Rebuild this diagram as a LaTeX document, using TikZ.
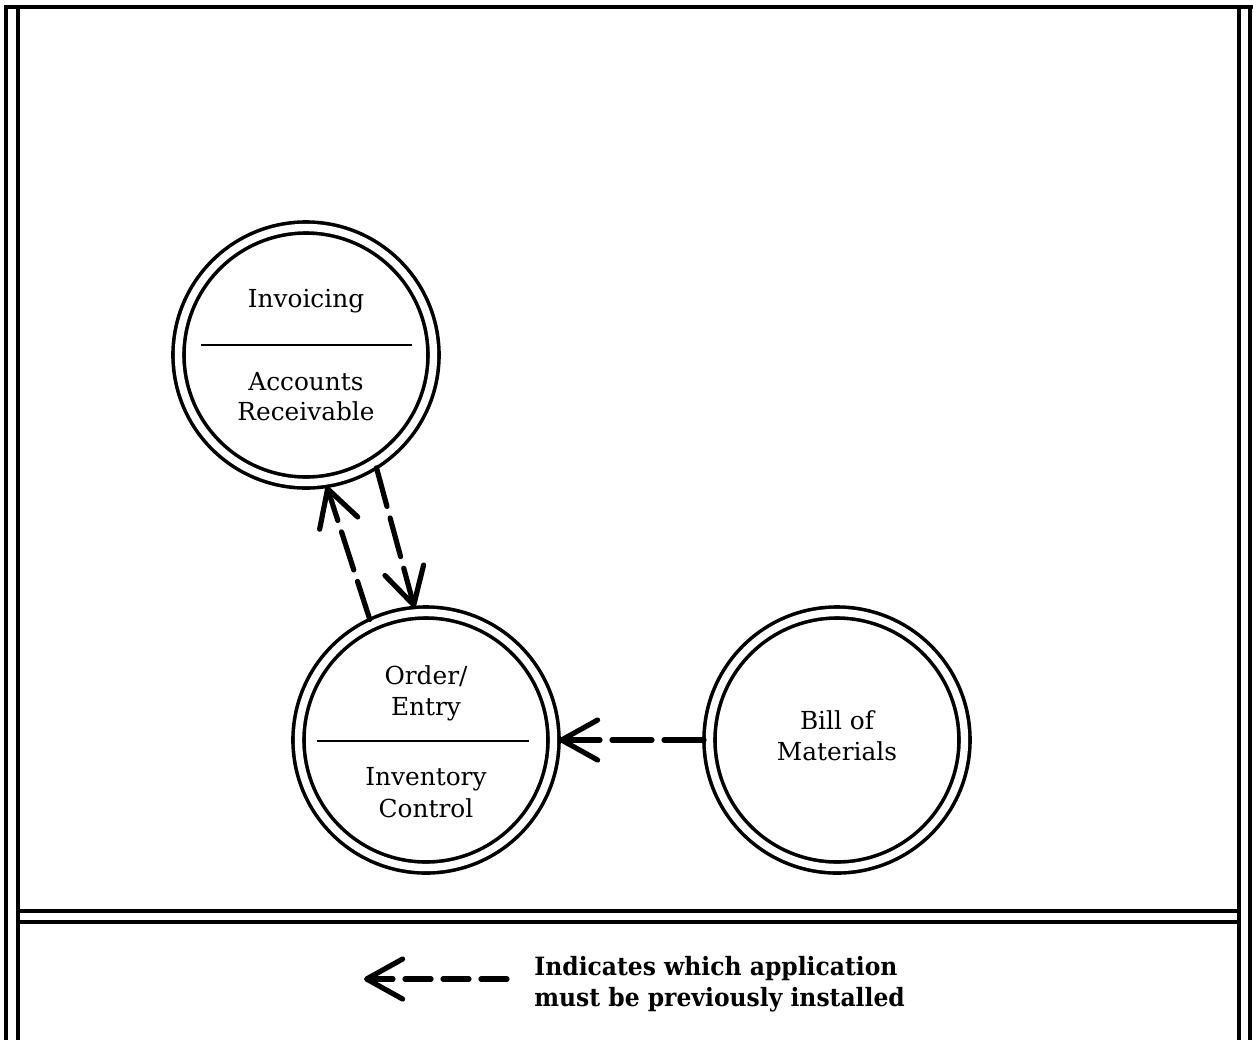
\documentclass[tikz,border=0pt]{standalone}
\usepackage{fontspec}
\setmainfont{DejaVu Serif}
\newfontfamily\legendfont{DejaVu Serif}[FakeStretch=0.93]
\usetikzlibrary{arrows.meta,calc}

\begin{document}
\begin{tikzpicture}[x=0.5pt,y=-0.5pt,
  app/.style={circle, draw, double, double distance=3.7pt, line width=1.8pt,
              minimum size=127.5pt, inner sep=0pt, outer sep=2.75pt},
  frame/.style={line width=2.1pt},
  divider/.style={line width=1pt},
  lbl/.style={font=\fontsize{12.4}{15}\selectfont, anchor=base, inner sep=0pt},
  legend/.style={font=\legendfont\fontsize{12.6}{15}\selectfont\bfseries, anchor=base west, inner sep=0pt},
  dep/.style={line width=2.6pt, line cap=round, dash pattern=on 20pt off 6pt,
              -{Straight Barb[length=18pt,width=20pt,round]}}]
\useasboundingbox (0,0) rectangle (1253,1040);

% outer frame and the rule above the legend
\draw[frame] (6,1040) -- (6,7) -- (1253,7);
\draw[frame] (18,1040) -- (18,7);
\draw[frame] (1239,7) -- (1239,1040);
\draw[frame] (1250,7) -- (1250,1040);
\draw[frame] (18,911) -- (1239,911);
\draw[frame] (18,922) -- (1239,922);

% applications
\node[app] (inv) at (306,355) {};
\node[app] (ord) at (426,740) {};
\node[app] (bom) at (837,740) {};

% Invoicing / Accounts Receivable
\node[lbl] (invA) at (306,307) {Invoicing};
\draw[divider] ($(inv.center)+(-105,-10)$) -- ($(inv.center)+(106,-10)$);
\node[lbl] (invB) at (306,390) {Accounts};
\node[lbl] (invC) at (306,420) {Receivable};

% Order/Entry / Inventory Control
\node[lbl] (ordA) at (426,684) {Order/};
\node[lbl] (ordB) at (426,715) {Entry};
\draw[divider] ($(ord.center)+(-109,1)$) -- ($(ord.center)+(103,1)$);
\node[lbl] (ordC) at (426,785) {Inventory};
\node[lbl] (ordD) at (426,817) {Control};

% Bill of Materials
\node[lbl] (bomA) at (837,729) {Bill of};
\node[lbl] (bomB) at (837,760) {Materials};

% prerequisites
\draw[dep] (ord.115) -- (inv.-81);
\draw[dep] (inv.-58) -- (ord.95);
\draw[dep] (bom.180) -- (ord.0);

% legend
\coordinate (keyS) at (507,979);
\coordinate (keyE) at (364,979);
\draw[dep, dash pattern=on 13pt off 6pt] (keyS) -- (keyE);
\node[legend] (keyA) at (534,975) {Indicates which application};
\node[legend] (keyB) at (534,1006) {must be previously installed};
\end{tikzpicture}
\end{document}
